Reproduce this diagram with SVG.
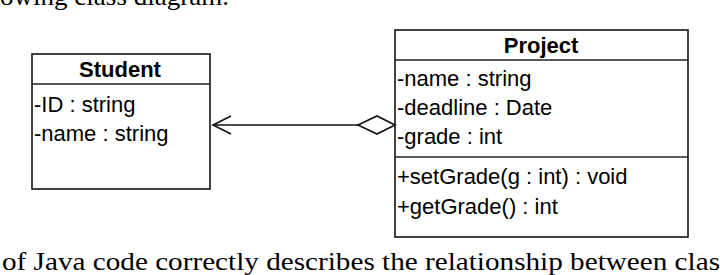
<svg xmlns="http://www.w3.org/2000/svg" width="720" height="275" viewBox="0 0 720 275">
<style>
.box{fill:#fff;stroke:#222;stroke-width:1.7}
.div{stroke:#222;stroke-width:1.7}
.t{font-family:"Liberation Sans",Arial,sans-serif;font-size:22px;fill:#000}
.h{font-family:"Liberation Sans",Arial,sans-serif;font-size:22px;font-weight:bold;fill:#000;text-anchor:middle}
.p{font-family:"Liberation Serif","Times New Roman",serif;font-size:25px;fill:#000}
.c{stroke:#111;stroke-width:1.6;fill:none}
</style>
<rect width="720" height="275" fill="#fff"/>
<text class="p" x="0" y="5" textLength="229" lengthAdjust="spacingAndGlyphs">owing class diagram.</text>
<text class="p" x="2" y="270" textLength="718" lengthAdjust="spacingAndGlyphs">of Java code correctly describes the relationship between clas</text>
<g id="Student">
<rect class="box" x="32" y="54" width="178" height="135"/>
<line class="div" x1="32" y1="84" x2="210" y2="84"/>
<text class="h" x="120" y="77">Student</text>
<text class="t" x="34" y="112">-ID : string</text>
<text class="t" x="34" y="141">-name : string</text>
</g>
<g id="Project">
<rect class="box" x="395" y="30" width="293" height="207"/>
<line class="div" x1="395" y1="60" x2="688" y2="60"/>
<line class="div" x1="395" y1="157" x2="688" y2="157"/>
<text class="h" x="541" y="53">Project</text>
<text class="t" x="397" y="86">-name : string</text>
<text class="t" x="397" y="115">-deadline : Date</text>
<text class="t" x="397" y="144">-grade : int</text>
<text class="t" x="397" y="184">+setGrade(g : int) : void</text>
<text class="t" x="397" y="214">+getGrade() : int</text>
</g>
<g id="connectors">
<line class="c" x1="213" y1="125" x2="358" y2="125"/>
<polyline class="c" points="231,116 213,125 231,134"/>
<polygon points="395,125 377,116 358,125 377,134" fill="#fff" stroke="#111" stroke-width="1.6"/>
</g>
</svg>
